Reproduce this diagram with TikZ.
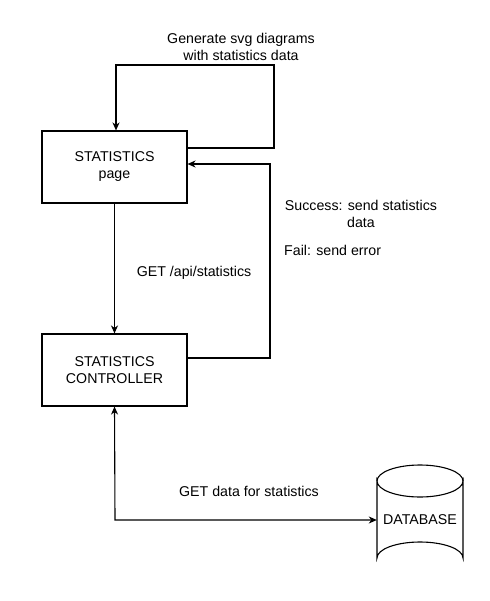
\documentclass[tikz,border=0pt]{standalone}
\usepackage{fontspec}
\setmainfont{Liberation Sans}
\usetikzlibrary{arrows.meta,calc}
\begin{document}
\begin{tikzpicture}[x=1pt,y=-1pt,
  every node/.style={font=\fontsize{14.2}{17}\selectfont},
  box/.style={draw,line width=1.1pt,minimum width=145pt,minimum height=72pt,align=center,inner sep=0pt},
  conn/.style={line width=1.1pt,-{Stealth[length=8pt,width=7pt,inset=2.5pt]}},
  biconn/.style={line width=1.1pt,{Stealth[length=8pt,width=7pt,inset=2.5pt]}-{Stealth[length=8pt,width=7pt,inset=2.5pt]}},
  lbl/.style={align=center,inner sep=0pt}]
\useasboundingbox (0,0) rectangle (489,601);
\fill[white] (0,0) rectangle (489,601);

\node[box] (page) at (114.5,167) {STATISTICS\\page};
\node[box] (ctrl) at (114.5,370) {STATISTICS\\CONTROLLER};

% database cylinder
\draw[line width=1.1pt,fill=white] (377,481) -- (377,558) arc[start angle=180,end angle=360,x radius=43,y radius=16] -- (463,481) arc[start angle=0,end angle=180,x radius=43,y radius=16] -- cycle;
\draw[line width=1.1pt] (377,481) arc[start angle=180,end angle=360,x radius=43,y radius=16];
\node[minimum width=86pt,minimum height=60pt,inner sep=0pt] (db) at (420,520) {DATABASE};

% connectors
\coordinate (t1) at (274,148);
\coordinate (t2) at (274,65);
\coordinate (t3) at (116,65);
\draw[conn] ([yshift=19pt]page.east) -- (t1) -- (t2) -- (t3) -- (t3 |- page.north);

\draw[conn] (page.south) -- (ctrl.north);

\coordinate (r1) at (270,358);
\coordinate (r2) at (270,164);
\draw[conn] ([yshift=12pt]ctrl.east) -- (r1) -- (r2) -- (r2 -| page.east);

\coordinate (b1) at (115,520);
\draw[biconn] (ctrl.south) -- (b1) -- (db.west);

% labels
\node[lbl] (l1) at (241,47) {Generate svg diagrams\\with statistics data};
\node[lbl] (l2) at (194,273) {GET /api/statistics};
\node[lbl] (l3) at (361,214) {Success: send statistics\\data};
\node[lbl,anchor=west] (l4) at (284,250) {Fail: send error};
\node[lbl] (l5) at (249,491) {GET data for statistics};
\end{tikzpicture}
\end{document}
